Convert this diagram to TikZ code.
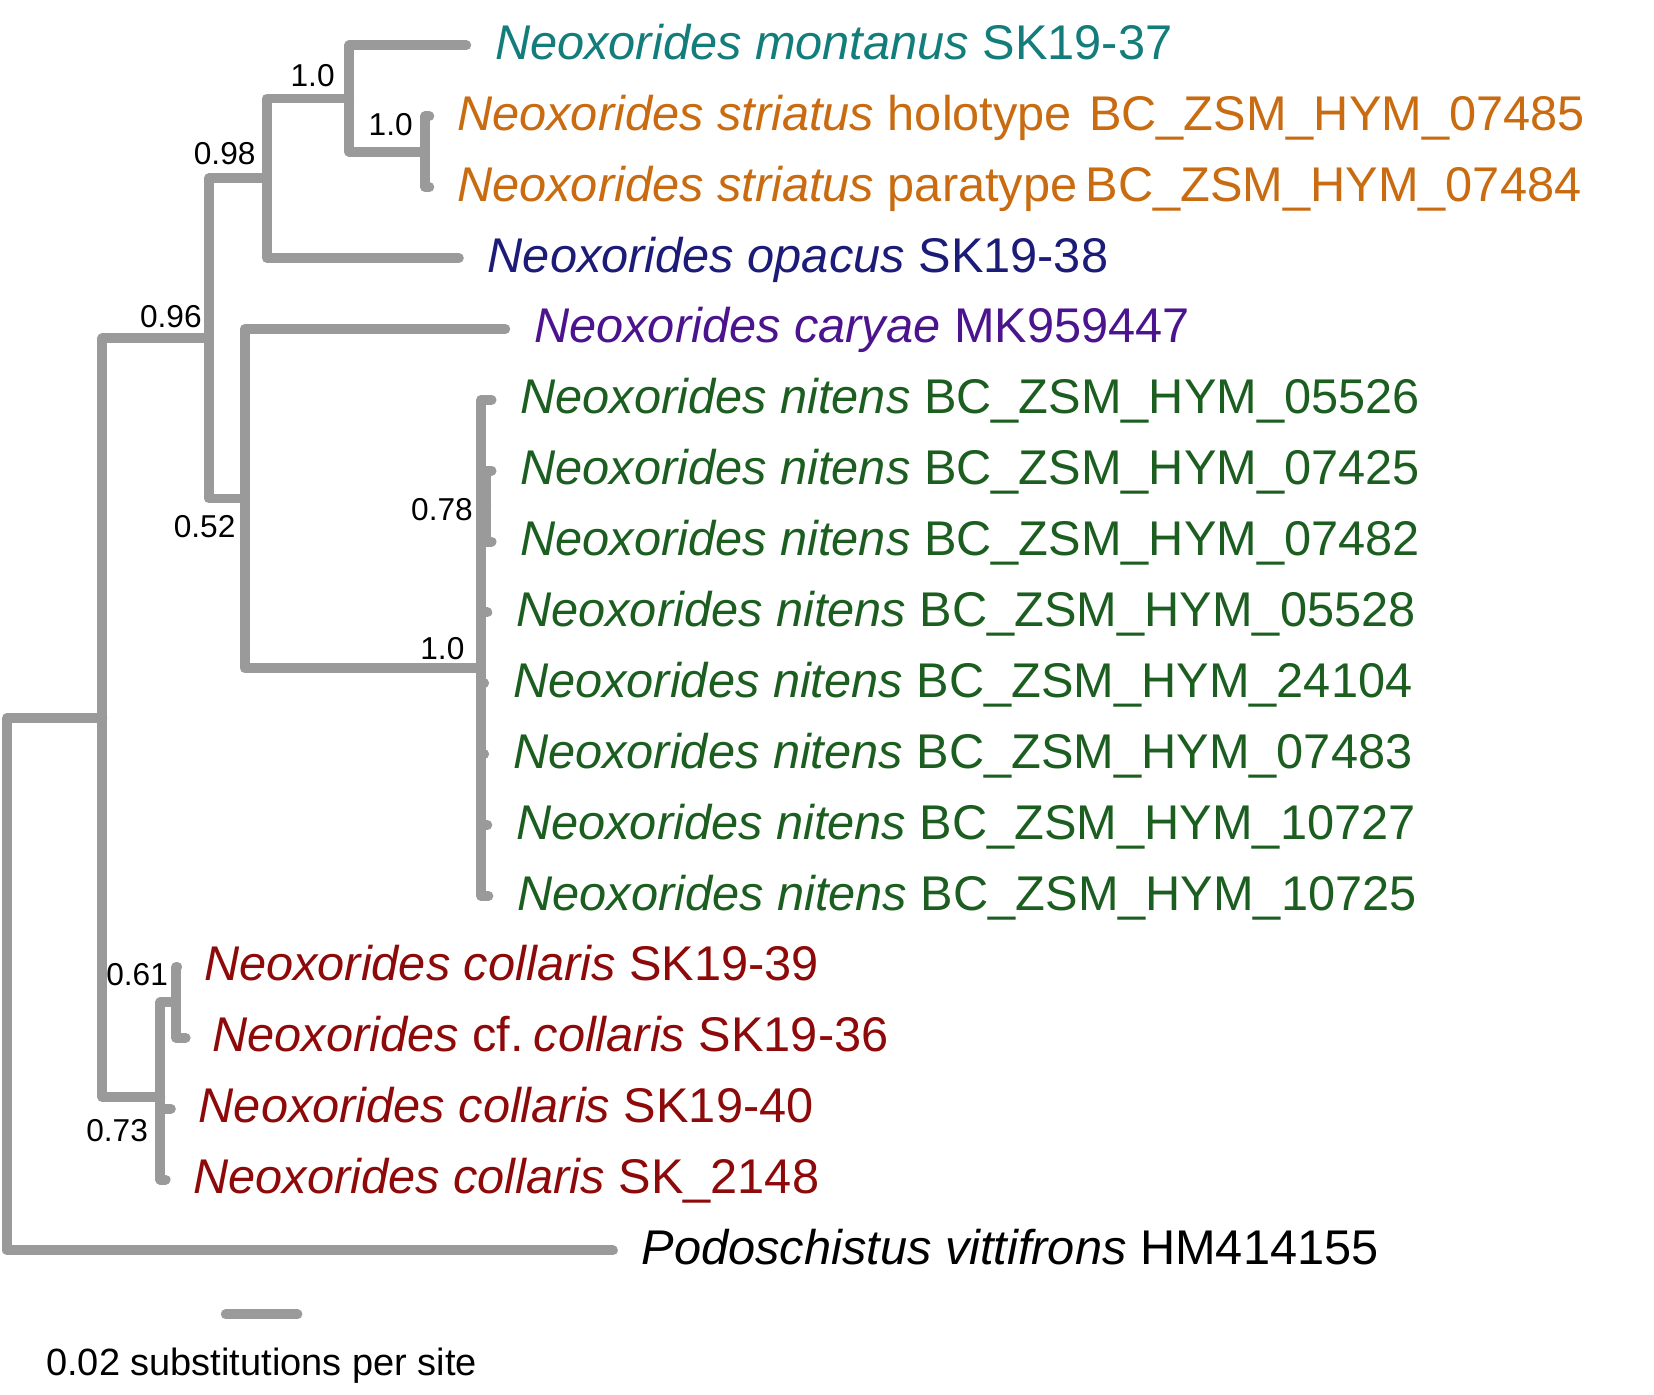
\documentclass[tikz,border=0pt]{standalone}
\usepackage{fontspec}
\setmainfont{Liberation Sans}
\usetikzlibrary{positioning}
\definecolor{branchgray}{HTML}{9A9A9A}
\definecolor{montanuscol}{HTML}{127D7A}
\definecolor{striatuscol}{HTML}{C96B10}
\definecolor{opacuscol}{HTML}{1C1C78}
\definecolor{caryaecol}{HTML}{4B148E}
\definecolor{nitenscol}{HTML}{1B5E20}
\definecolor{collariscol}{HTML}{8E0A0A}

\begin{document}
\begin{tikzpicture}[
    x=0.5pt, y=-0.5pt,
    branch/.style={draw=branchgray, line width=4.7pt, line cap=round, line join=round},
    leaf/.style={font=\fontsize{23.1}{27}\selectfont, inner sep=0pt, text height=16.5pt, text depth=0pt, yshift=1.6pt},
    boot/.style={font=\fontsize{15}{18}\selectfont, inner sep=0pt, text height=10.7pt, text depth=0pt, xshift=0.8pt, yshift=-1.4pt},
    scaletext/.style={font=\fontsize{18}{22}\selectfont, inner sep=0pt, text height=12.9pt, text depth=0pt}
]
    \useasboundingbox (0,0) rectangle (1568,1322);

    % Internal nodes
    \coordinate (R) at (7,932.9);
    \coordinate (E) at (97,680.3);
    \coordinate (C) at (198,320.8);
    \coordinate (B) at (253,169);
    \coordinate (A) at (331,93.4);
    \coordinate (S) at (403,143.8);
    \coordinate (F) at (232,472.6);
    \coordinate (G) at (456,633.4);
    \coordinate (H) at (461,479.8);
    \coordinate (I) at (152,1039.8);
    \coordinate (J) at (167,950.2);

    % Tips
    \coordinate (tM) at (442,43);
    \coordinate (tH1) at (407,110.2);
    \coordinate (tH2) at (407,177.4);
    \coordinate (tO) at (435,244.6);
    \coordinate (tCa) at (479,311.8);
    \coordinate (tN1) at (466,379);
    \coordinate (tN2) at (466,446.2);
    \coordinate (tN3) at (466,513.4);
    \coordinate (tN4) at (462,580.6);
    \coordinate (tN5) at (459,647.8);
    \coordinate (tN6) at (459,715);
    \coordinate (tN7) at (462,782.2);
    \coordinate (tN8) at (463,849.4);
    \coordinate (tC1) at (168,916.6);
    \coordinate (tC2) at (176,983.8);
    \coordinate (tC3) at (162,1051);
    \coordinate (tC4) at (157,1118.2);
    \coordinate (tP) at (581,1185.4);

    % Branches
    \draw[branch] (tM) -| (A) |- (S);
    \draw[branch] (tH1) -| (S) |- (tH2);
    \draw[branch] (A) -| (B) |- (tO);
    \draw[branch] (B) -| (C) |- (F);
    \draw[branch] (tCa) -| (F) |- (G);
    \draw[branch] (tN1) -| (G) |- (tN8);
    \draw[branch] (G |- H) -- (H);
    \draw[branch] (tN2) -| (H) |- (tN3);
    \draw[branch] (G |- tN4) -- (tN4);
    \draw[branch] (G |- tN5) -- (tN5);
    \draw[branch] (G |- tN6) -- (tN6);
    \draw[branch] (G |- tN7) -- (tN7);
    \draw[branch] (C) -| (E) |- (I);
    \draw[branch] (J) -| (I) |- (tC4);
    \draw[branch] (I |- tC3) -- (tC3);
    \draw[branch] (tC1) -| (J) |- (tC2);
    \draw[branch] (E) -| (R) |- (tP);

    % Support values
    \node[boot, above left=6.75pt and 7.5pt of A] (bA) {1.0};
    \node[boot, above left=8.8pt and 6.5pt of S] (bS) {1.0};
    \node[boot, above left=7.5pt and 6pt of B] (bB) {0.98};
    \node[boot, above left=6.25pt and 4pt of C] (bC) {0.96};
    \node[boot, below left=6.25pt and 5pt of F] (bF) {0.52};
    \node[boot, left=7pt of H] (bH) {0.78};
    \node[boot, above left=5.5pt and 8.5pt of G] (bG) {1.0};
    \node[boot, above left=9.25pt and 4.5pt of J] (bJ) {0.61};
    \node[boot, below left=9pt and 6.5pt of I] (bI) {0.73};

    % Taxa
    \node[leaf, text=montanuscol, right=13.5pt of tM] (lM) {\textit{Neoxorides montanus} SK19-37};
    \node[leaf, text=striatuscol, right=13pt of tH1] (lH1) {\textit{Neoxorides striatus} holotype\hspace{0.35em}BC\_ZSM\_HYM\_07485};
    \node[leaf, text=striatuscol, right=13pt of tH2] (lH2) {\textit{Neoxorides striatus} paratype\hspace{0.17em}BC\_ZSM\_HYM\_07484};
    \node[leaf, text=opacuscol, right=13.5pt of tO] (lO) {\textit{Neoxorides opacus} SK19-38};
    \node[leaf, text=caryaecol, right=13.5pt of tCa] (lCa) {\textit{Neoxorides caryae} MK959447};
    \node[leaf, text=nitenscol, right=13.5pt of tN1] (lN1) {\textit{Neoxorides nitens} BC\_ZSM\_HYM\_05526};
    \node[leaf, text=nitenscol, right=13.5pt of tN2] (lN2) {\textit{Neoxorides nitens} BC\_ZSM\_HYM\_07425};
    \node[leaf, text=nitenscol, right=13.5pt of tN3] (lN3) {\textit{Neoxorides nitens} BC\_ZSM\_HYM\_07482};
    \node[leaf, text=nitenscol, right=13.5pt of tN4] (lN4) {\textit{Neoxorides nitens} BC\_ZSM\_HYM\_05528};
    \node[leaf, text=nitenscol, right=13.5pt of tN5] (lN5) {\textit{Neoxorides nitens} BC\_ZSM\_HYM\_24104};
    \node[leaf, text=nitenscol, right=13.5pt of tN6] (lN6) {\textit{Neoxorides nitens} BC\_ZSM\_HYM\_07483};
    \node[leaf, text=nitenscol, right=13.5pt of tN7] (lN7) {\textit{Neoxorides nitens} BC\_ZSM\_HYM\_10727};
    \node[leaf, text=nitenscol, right=13.5pt of tN8] (lN8) {\textit{Neoxorides nitens} BC\_ZSM\_HYM\_10725};
    \node[leaf, text=collariscol, right=12.5pt of tC1] (lC1) {\textit{Neoxorides collaris} SK19-39};
    \node[leaf, text=collariscol, right=12.5pt of tC2] (lC2) {\textit{Neoxorides} cf.\hspace{0.2em}\textit{collaris} SK19-36};
    \node[leaf, text=collariscol, right=13pt of tC3] (lC3) {\textit{Neoxorides collaris} SK19-40};
    \node[leaf, text=collariscol, right=13pt of tC4] (lC4) {\textit{Neoxorides collaris} SK\_2148};
    \node[leaf, right=13.5pt of tP] (lP) {\textit{Podoschistus vittifrons} HM414155};

    % Scale bar
    \coordinate (sb1) at (214,1246);
    \coordinate (sb2) at (282,1246);
    \draw[branch] (sb1) -- (sb2);
    \node[scaletext] (sbl) at (248,1291) {0.02 substitutions per site};
\end{tikzpicture}
\end{document}
